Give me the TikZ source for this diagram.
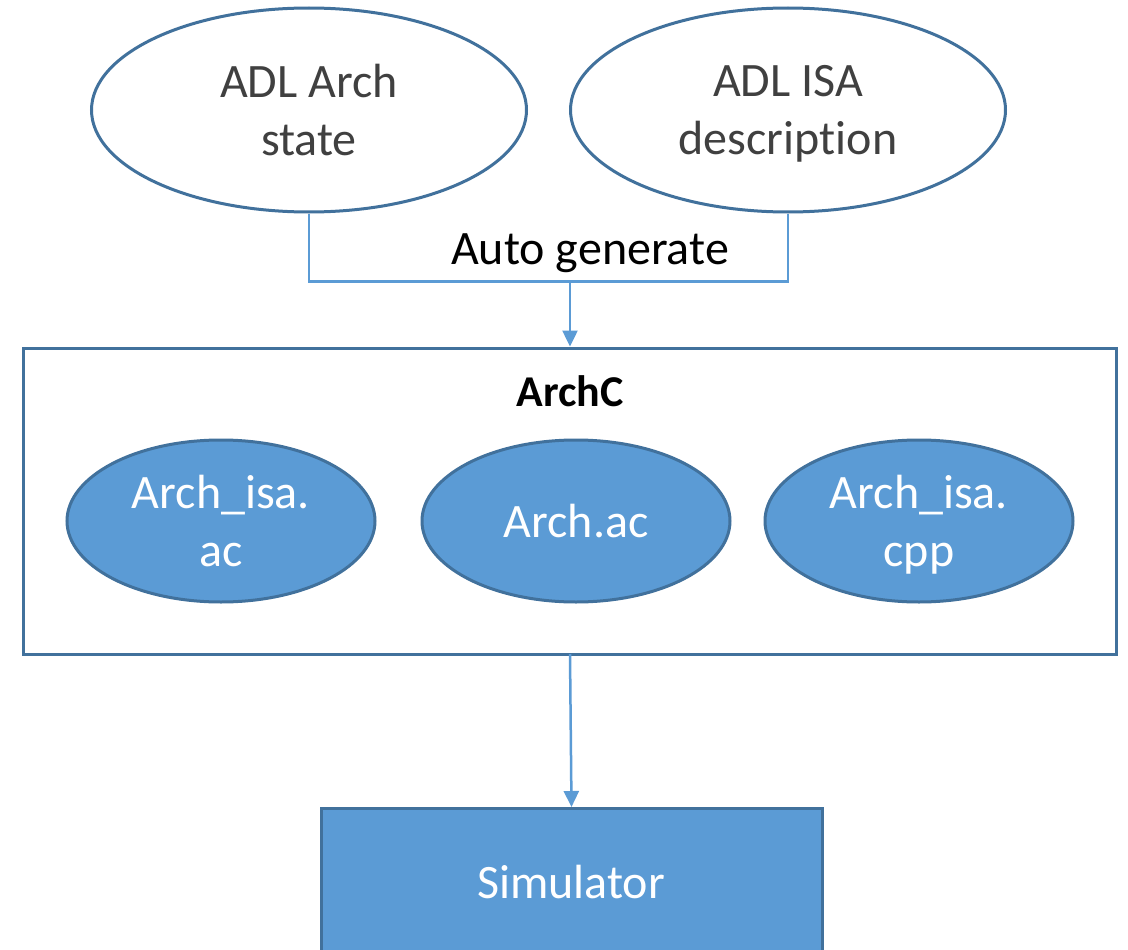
\documentclass[tikz,border=0pt]{standalone}
\usepackage{fontspec}
\setmainfont{Carlito}[Ligatures=NoCommon]
\usetikzlibrary{shapes.geometric,arrows.meta}
\definecolor{boxblue}{HTML}{5B9BD5}
\definecolor{edgeblue}{HTML}{41719C}
\definecolor{darktext}{HTML}{404040}
% a line of text whose descenders do not count towards its depth
\newcommand{\nodepth}[1]{\raisebox{0pt}[\height][0pt]{#1}}
\tikzset{
  bigtext/.style={font=\fontsize{48}{58}\selectfont, align=center},
  srcoval/.style={ellipse, draw=edgeblue, line width=3pt, fill=white, inner sep=0pt,
    minimum width=435pt, minimum height=204pt, text=darktext, bigtext},
  fileoval/.style={ellipse, draw=edgeblue, line width=3pt, fill=boxblue, inner sep=0pt,
    minimum width=308pt, minimum height=162pt, text=white, bigtext},
  link/.style={draw=boxblue, line width=2.5pt},
  flow/.style={link, -{Triangle[width=15pt,length=16pt]}}
}
\begin{document}
\begin{tikzpicture}[x=1pt,y=-1pt]
  \clip (0,0) rectangle (1128,950);
  \fill[white] (0,0) rectangle (1128,950);

  % source descriptions
  \node[srcoval] (arch) at (309,110) {ADL Arch\\state};
  \node[srcoval] (isa)  at (788,110) {ADL ISA\\\nodepth{description}};

  % generation bracket
  \coordinate (gen) at (570,280);
  \draw[link] (arch.south) -- ++(0,68) -| (isa.south);
  \node[bigtext, text=black] (autogen) at (590,249) {\nodepth{Auto generate}};

  % ArchC container
  \node[draw=edgeblue, line width=3pt, fill=white, minimum width=1093pt, minimum height=306pt,
        inner sep=0pt] (archc) at (569.5,501) {};
  \node[bigtext, font=\fontsize{44}{52}\bfseries] (archctitle) at (570,391) {ArchC};

  \node[fileoval] (isaac)  at (221,521) {Arch\_isa.\\ac};
  \node[fileoval] (archac) at (576,521) {Arch.ac};
  \node[fileoval] (isacpp) at (919,521) {Arch\_isa.\\\nodepth{cpp}};

  % simulator
  \node[draw=edgeblue, line width=3pt, fill=boxblue, minimum width=501pt, minimum height=200pt,
        inner sep=0pt, anchor=north] (sim) at (571.5,807) {};
  \node[bigtext, text=white] (simtext) at (571,882) {Simulator};

  % flow arrows
  \draw[flow] (gen) -- (gen |- archc.north);
  \draw[flow] (570,654) coordinate (out) -- (sim.north);
\end{tikzpicture}
\end{document}
